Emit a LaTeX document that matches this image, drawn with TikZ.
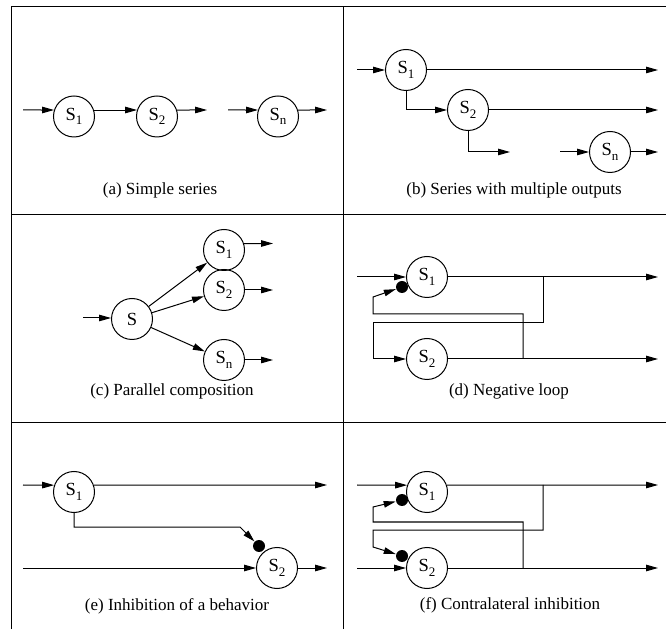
\documentclass[tikz,border=0pt]{standalone}
\usepackage{fontspec}
\setmainfont{Liberation Serif}
\usetikzlibrary{arrows.meta}
\newcommand{\Sx}[1]{S\raisebox{-4.5pt}{\fontsize{13}{13}\selectfont #1}}
\tikzset{
  beh/.style={draw, circle, minimum size=41pt, inner sep=0pt, font=\fontsize{18.5}{20}\selectfont},
  inh/.style={circle, fill, inner sep=0pt, minimum size=12pt},
  captxt/.style={font=\fontsize{17}{20}\selectfont},
  >={Triangle[length=12pt,width=6.5pt]}
}

\begin{document}
\begin{tikzpicture}[x=1pt,y=1pt,line width=1pt]
   \useasboundingbox (0,0) rectangle (666,629);
   % frame
   \draw (11.5,0) -- (11.5,622.3) -- (666,622.3);
   \draw (343.7,0) -- (343.7,622.3);
   \draw (11.5,414.7) -- (666,414.7);
   \draw (11.5,206.3) -- (666,206.3);

   % (a) simple series
   \node[beh] (aS1) at (74,512.5) {\Sx{1}};
   \node[beh] (aS2) at (157,512.5) {\Sx{2}};
   \node[beh] (aSn) at (278,512.5) {\Sx{n}};
   \coordinate (aIn) at (23,519);
   \coordinate (aOut2) at (207,519);
   \coordinate (aInn) at (228,519);
   \coordinate (aOutn) at (327,519);
   \draw[->] (aIn) -- (aS1.162);
   \draw[->] (aS1.18) -- (aS2.162);
   \draw[->] (aS2.18) -- (aOut2);
   \draw[->] (aInn) -- (aSn.162);
   \draw[->] (aSn.18) -- (aOutn);
   \node[captxt] (aCap) at (160,439) {(a) Simple series};

   % (b) series with multiple outputs
   \node[beh] (bS1) at (406,559) {\Sx{1}};
   \node[beh] (bS2) at (468,519) {\Sx{2}};
   \node[beh] (bSn) at (610,477) {\Sx{n}};
   \coordinate (bIn) at (357,559);
   \coordinate (bOut1) at (658,559);
   \coordinate (bOut2) at (658,519);
   \coordinate (bBr) at (510,477);
   \coordinate (bInn) at (560,477);
   \coordinate (bOutn) at (658,477);
   \draw[->] (bIn) -- (bS1);
   \draw[->] (bS1) -- (bOut1);
   \draw[->] (bS1.south) |- (bS2);
   \draw[->] (bS2) -- (bOut2);
   \draw[->] (bS2.south) |- (bBr);
   \draw[->] (bInn) -- (bSn);
   \draw[->] (bSn) -- (bOutn);
   \node[captxt] (bCap) at (514,439) {(b) Series with multiple outputs};

   % (c) parallel composition
   \node[beh] (cS) at (132,310) {S};
   \node[beh] (cS1) at (224,379) {\Sx{1}};
   \node[beh] (cS2) at (224,339) {\Sx{2}};
   \node[beh] (cSn) at (224,269) {\Sx{n}};
   \coordinate (cIn) at (83,311);
   \draw[->] (cIn) -- (cIn -| cS.west);
   \draw[->] (cS) -- (cS1);
   \draw[->] (cS) -- (cS2);
   \draw[->] (cS) -- (cSn);
   \draw[->] (cS1.18) -- (273,385.5);
   \draw[->] (cS2) -- (273,339);
   \draw[->] (cSn) -- (273,269);
   \node[captxt] (cCap) at (172,238) {(c) Parallel composition};

   % (d) negative loop
   \node[beh] (dS1) at (427,352) {\Sx{1}};
   \node[beh] (dS2) at (427,270) {\Sx{2}};
   \node[inh] (dI1) at (402,342) {};
   \coordinate (dIn) at (357,352);
   \coordinate (dOut1) at (658,352);
   \coordinate (dOut2) at (658,270);
   \coordinate (dB1) at (543,352);
   \coordinate (dB2) at (523,270);
   \draw[->] (dIn) -- (dS1);
   \draw[->] (dS1) -- (dOut1);
   \draw[->] (dS2) -- (dOut2);
   \draw[->] (dB1) -- (543,306) -- (373,306) |- (dS2);
   \draw[->] (dB2) -- (523,315) -- (373,315) -- (373,332) -- (dI1);
   \node[captxt] (dCap) at (509,238) {(d) Negative loop};

   % (e) inhibition of a behavior
   \node[beh] (eS1) at (74,137) {\Sx{1}};
   \node[beh] (eS2) at (277,61) {\Sx{2}};
   \node[inh] (eI2) at (259,83) {};
   \coordinate (eIn1) at (23,144);
   \coordinate (eOut1) at (327,144);
   \coordinate (eIn2) at (23,61);
   \coordinate (eOut2) at (327,61);
   \draw[->] (eIn1) -- (eS1.161);
   \draw[->] (eS1.19) -- (eOut1);
   \draw[->] (eIn2) -- (eS2);
   \draw[->] (eS2) -- (eOut2);
   \draw[->] (eS1.south) |- (240,102) -- (eI2);
   \node[captxt] (eCap) at (177,23) {(e) Inhibition of a behavior};

   % (f) contralateral inhibition
   \node[beh] (fS1) at (427,137) {\Sx{1}};
   \node[beh] (fS2) at (427,61) {\Sx{2}};
   \node[inh] (fI1) at (402,129) {};
   \node[inh] (fI2) at (402,73) {};
   \coordinate (fIn1) at (357,144);
   \coordinate (fOut1) at (658,144);
   \coordinate (fIn2) at (357,61);
   \coordinate (fOut2) at (658,61);
   \coordinate (fB1) at (543,144);
   \coordinate (fB2) at (523,61);
   \draw[->] (fIn1) -- (fS1.161);
   \draw[->] (fS1.19) -- (fOut1);
   \draw[->] (fIn2) -- (fS2);
   \draw[->] (fS2) -- (fOut2);
   \draw[->] (fB1) -- (543,99) -- (373,99) -- (373,82) -- (fI2);
   \draw[->] (fB2) -- (523,107) -- (373,107) -- (373,122) -- (fI1);
   \node[captxt] (fCap) at (510,24) {(f) Contralateral inhibition};
\end{tikzpicture}
\end{document}
